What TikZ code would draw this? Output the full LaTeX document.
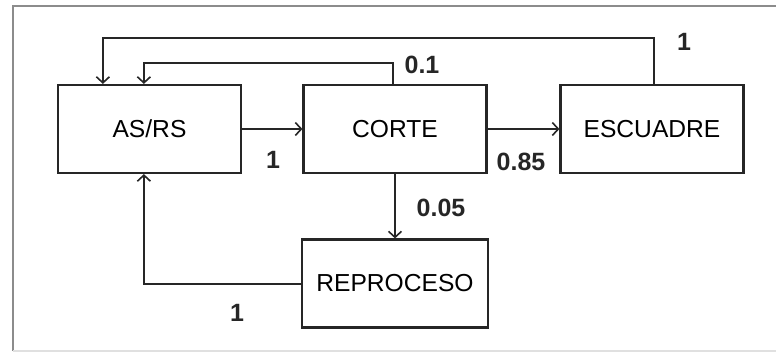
\documentclass[tikz,border=0pt]{standalone}
\usepackage{fontspec}
\setmainfont{Liberation Sans}
\usepackage{tikz}
\usetikzlibrary{arrows.meta, positioning, calc}

\tikzset{
    blok/.style={draw=black!85, line width=1.1pt, minimum width=91.5pt,
        minimum height=44pt, inner sep=0pt, font=\fontsize{12.3}{14}\selectfont},
    flow/.style={draw=black!85, line width=1pt,
        -{Straight Barb[length=3pt, width=6.5pt, line width=0.8pt]}},
    lbl/.style={font=\fontsize{12.5}{14}\selectfont\bfseries, inner sep=0pt, text=black!85}
}

\begin{document}
\begin{tikzpicture}[x=0.5pt, y=-0.5pt]
        % ============================================================
        % Układ w pikselach obrazu: 776 x 353, oś y w dół
        % ============================================================
        \useasboundingbox (0,0) rectangle (776,353);

        % === RAMKA ===
        \draw[black!45, line width=0.9pt] (13,351) -- (13,6) -- (776,6);
        \draw[black!12, line width=0.6pt] (13,351) -- (776,351);

        % === BLOKI ===
        \node[blok] (asrs) at (149.5,129) {AS/RS};
        \node[blok] (corte) at (395,129) {CORTE};
        \node[blok] (escuadre) at (652,129) {ESCUADRE};
        \node[blok, minimum width=93pt] (reproceso) at (395,283.5) {REPROCESO};

        % === PRZEPŁYWY GŁÓWNE ===
        \draw[flow] (asrs.east) -- (corte.west);
        \draw[flow] (corte.east) -- (escuadre.west);
        \draw[flow] (corte.south) -- (reproceso.north);

        % === PĘTLE ZWROTNE ===
        \draw[flow] ([xshift=1pt]escuadre.north) -- ++(0,-46)
            -| ([xshift=23pt]asrs.north west);
        \draw[flow] ([xshift=-1pt]corte.north) -- ++(0,-21)
            -| ([xshift=43.5pt]asrs.north west);
        \draw[flow] (reproceso.west) -| ([xshift=43.5pt]asrs.south west);

        % === ETYKIETY ===
        \node[lbl] (w1) at (273,160) {1};
        \node[lbl] (w2) at (422,65) {0.1};
        \node[lbl] (w3) at (684,42) {1};
        \node[lbl] (w4) at (521,162) {0.85};
        \node[lbl] (w5) at (441,208) {0.05};
        \node[lbl] (w6) at (237,313) {1};

    \end{tikzpicture}
\end{document}
